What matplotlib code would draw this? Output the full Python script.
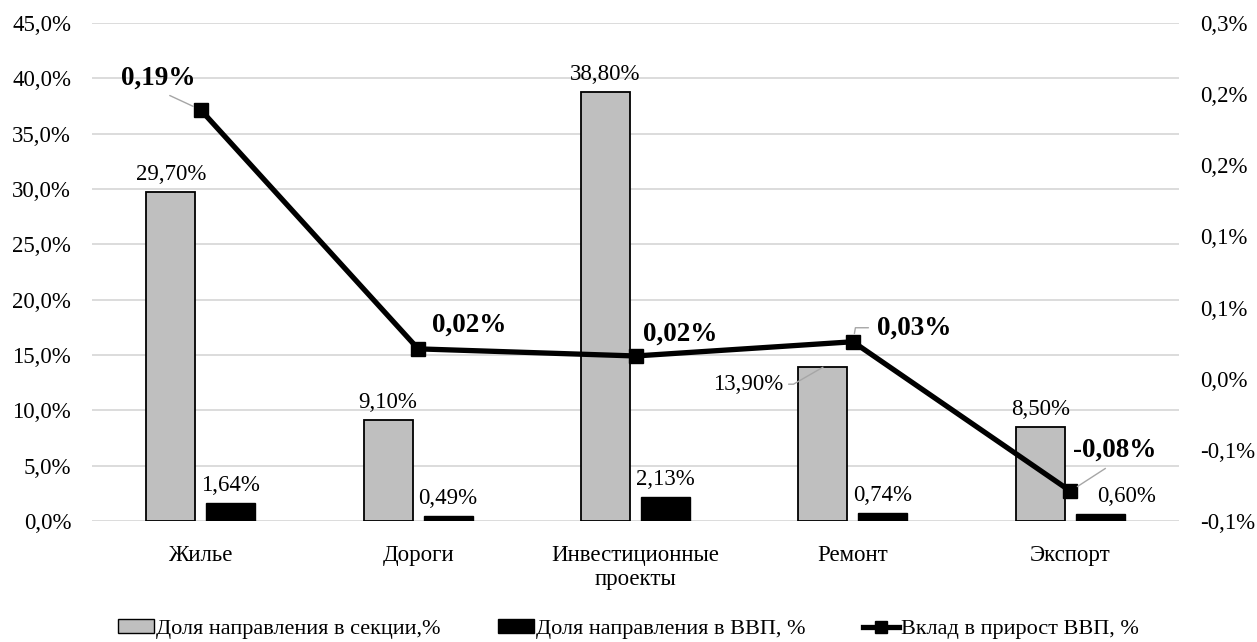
import matplotlib.pyplot as plt
from matplotlib.patches import Patch
from matplotlib.lines import Line2D
from decimal import Decimal, ROUND_HALF_UP
import numpy as np

plt.rcParams['font.family'] = ['Liberation Serif', 'DejaVu Serif']

categories = ['Жилье', 'Дороги', 'Инвестиционные\nпроекты', 'Ремонт', 'Экспорт']
share_section = [29.70, 9.10, 38.80, 13.90, 8.50]   # доля направления в секции, %
share_gdp = [1.64, 0.49, 2.13, 0.74, 0.60]          # доля направления в ВВП, %
gdp_growth = [0.189, 0.021, 0.016, 0.026, -0.079]   # вклад в прирост ВВП, %

left_ticks = [0, 5, 10, 15, 20, 25, 30, 35, 40, 45]
right_ticks = [-0.10, -0.05, 0.00, 0.05, 0.10, 0.15, 0.20, 0.25]


def pct(v, nd):
    # округление как в Excel: половина — от нуля
    q = Decimal(1).scaleb(-nd)
    s = str(Decimal(str(v)).quantize(q, rounding=ROUND_HALF_UP))
    if s.startswith('-') and Decimal(s) == 0:
        s = s[1:]
    return s.replace('.', ',') + '%'


FS = 16.5

fig = plt.figure(figsize=(12.57, 6.42), dpi=100)
ax = fig.add_axes([0.0732, 0.1885, 0.8648, 0.7755])
ax2 = ax.twinx()

x = np.arange(len(categories))
w = 0.225
off = 0.138

ax.bar(x - off, share_section, w, color='#bfbfbf', edgecolor='black', linewidth=1.3, zorder=2)
ax.bar(x + off, share_gdp, w, color='black', edgecolor='black', linewidth=1, zorder=2)

ax.set_xlim(-0.5, len(categories) - 0.5)
ax.set_ylim(0, 45)
ax.set_yticks(left_ticks)
ax.set_yticklabels([pct(v, 1) for v in left_ticks], fontsize=FS)
ax.set_xticks(x)
ax.set_xticklabels(categories, fontsize=FS, linespacing=1.2)
ax.grid(axis='y', color='#d9d9d9', linewidth=1.3, zorder=0)
ax.set_axisbelow(True)
ax.tick_params(axis='y', length=0, pad=15)
ax.tick_params(axis='x', length=0, pad=17)
for s in ax.spines.values():
    s.set_visible(False)

ax2.plot(x, gdp_growth, color='black', linewidth=3.8, marker='s', markersize=10, zorder=5)
ax2.set_ylim(-0.10, 0.25)
ax2.set_yticks(right_ticks)
ax2.set_yticklabels([pct(v, 1) for v in right_ticks], fontsize=FS)
ax2.tick_params(length=0, pad=15)
for s in ax2.spines.values():
    s.set_visible(False)

grey = '#a6a6a6'

# подписи серых столбцов
for i, v in enumerate(share_section):
    if i == 3:
        ax.annotate(pct(v, 2), (x[i] - off, v), xytext=(-75, -17), textcoords='offset pixels',
                    ha='center', va='center', fontsize=FS,
                    arrowprops=dict(arrowstyle='-', color=grey, lw=1, shrinkA=2, shrinkB=0,
                                    relpos=(1, 0.5),
                                    connectionstyle='angle,angleA=0,angleB=30,rad=0'))
    else:
        ax.annotate(pct(v, 2), (x[i] - off, v), xytext=(0, 7), textcoords='offset pixels',
                    ha='center', va='bottom', fontsize=FS)

# подписи чёрных столбцов
for i, v in enumerate(share_gdp):
    dx = 26 if i == 4 else 0
    ax.annotate(pct(v, 2), (x[i] + off, v), xytext=(dx, 7), textcoords='offset pixels',
                ha='center', va='bottom', fontsize=FS)

# подписи линии; выноски: откуда от текста и как изгибаются
line_offsets = [(-42, 32), (51, 24), (45, 22), (61, 14), (44, 41)]
leaders = [
    dict(relpos=(0.5, 0), connectionstyle='arc3'),
    None,
    None,
    dict(relpos=(0, 0.5), connectionstyle='angle,angleA=0,angleB=80,rad=0'),
    dict(relpos=(0.5, 0), connectionstyle='arc3'),
]
for i, v in enumerate(gdp_growth):
    dx, dy = line_offsets[i]
    kw = {}
    if leaders[i]:
        kw['arrowprops'] = dict(arrowstyle='-', color=grey, lw=1, shrinkA=4, shrinkB=6, **leaders[i])
    ax2.annotate(pct(v, 2), (x[i], v), xytext=(dx, dy), textcoords='offset pixels',
                 ha='center', va='center', fontsize=19.5, fontweight='bold', zorder=6, **kw)

handles = [
    Patch(facecolor='#bfbfbf', edgecolor='black', linewidth=1),
    Patch(facecolor='black', edgecolor='black'),
    Line2D([0], [0], color='black', linewidth=3.8, marker='s', markersize=9),
]
labels = ['Доля направления в секции,%', 'Доля направления в ВВП, %', 'Вклад в прирост ВВП, %']
fig.legend(handles, labels, loc='center', bbox_to_anchor=(0.5, 0.02), ncol=3, frameon=False,
           fontsize=16, handlelength=1.6, handleheight=0.55, handletextpad=0.1,
           columnspacing=2.6)

fig.savefig('out.png', dpi=100)
